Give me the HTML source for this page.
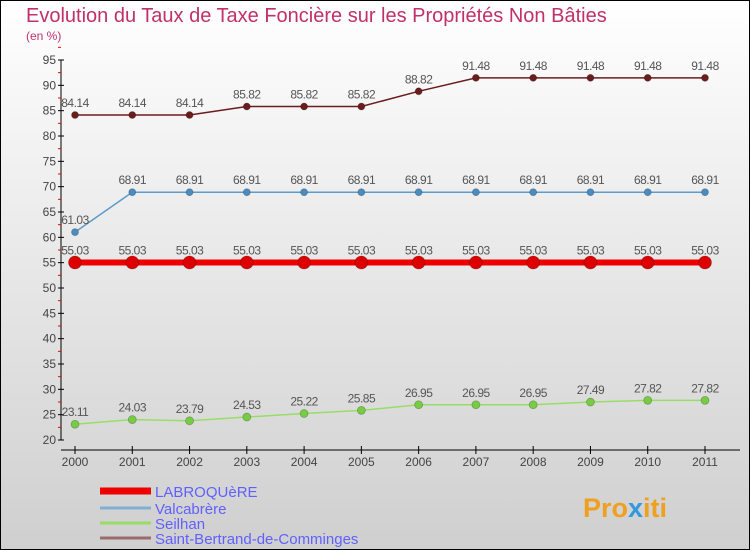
<!DOCTYPE html>
<html><head><meta charset="utf-8"><style>
body{margin:0}
svg{display:block;font-family:"Liberation Sans",sans-serif}
</style></head><body>
<svg width="750" height="550" viewBox="0 0 750 550">
<defs><linearGradient id="bg" x1="0" y1="0" x2="0" y2="1"><stop offset="0" stop-color="#ffffff"/><stop offset="1" stop-color="#cfcfcf"/></linearGradient></defs>
<rect x="0.5" y="0.5" width="749" height="549" fill="url(#bg)" stroke="#000"/>
<text x="26" y="22" font-size="20" fill="#c0306a">Evolution du Taux de Taxe Foncière sur les Propriétés Non Bâties</text>
<text x="26" y="40" font-size="12" fill="#c0306a">(en %)</text>
<g id="axes"></g>
<g id="series"></g>
<g id="legend"></g>
<text x="583" y="517" font-size="27" font-weight="bold" fill="#f0a020">Pro<tspan fill="#3399dd">x</tspan>iti</text>
</svg>
<script>
const years=[2000,2001,2002,2003,2004,2005,2006,2007,2008,2009,2010,2011];
const yTicks=[20,25,30,35,40,45,50,55,60,65,70,75,80,85,90,95];
const labroquere=[55.03,55.03,55.03,55.03,55.03,55.03,55.03,55.03,55.03,55.03,55.03,55.03];
const valcabrere=[61.03,68.91,68.91,68.91,68.91,68.91,68.91,68.91,68.91,68.91,68.91,68.91];
const seilhan=[23.11,24.03,23.79,24.53,25.22,25.85,26.95,26.95,26.95,27.49,27.82,27.82];
const stbertrand=[84.14,84.14,84.14,85.82,85.82,85.82,88.82,91.48,91.48,91.48,91.48,91.48];
const seriesNames=["LABROQUèRE","Valcabrère","Seilhan","Saint-Bertrand-de-Comminges"];
const NS="http://www.w3.org/2000/svg";
function X(i){return 75+(705-75)*i/(years.length-1);}
function Y(v){return 440-(v-20)*(380/75);}
function mk(tag,attrs,parent,txt){const e=document.createElementNS(NS,tag);for(const k in attrs)e.setAttribute(k,attrs[k]);if(txt!==undefined)e.textContent=txt;parent.appendChild(e);return e;}
const ax=document.getElementById('axes');
let e=mk('line',{x1:61,y1:Y(95),x2:61,y2:440,stroke:'#000'},ax);


yTicks.forEach(v=>{
 let t=mk('line',{x1:58,y1:Y(v),x2:64,y2:Y(v),stroke:'#000'},ax);
 
 
 let m=mk('line',{x1:58,y1:Y(v+2.5),x2:61,y2:Y(v+2.5),stroke:'#e00'},ax);
 
 
 let l=mk('text',{x:56,y:Y(v)+4,'font-size':12,fill:'#444','text-anchor':'end'},ax,v);
 
 
});
e=mk('line',{x1:61,y1:450,x2:740,y2:450,stroke:'#000'},ax);


years.forEach((y,i)=>{
 let t=mk('line',{x1:X(i),y1:446,x2:X(i),y2:454,stroke:'#000'},ax);
 
 
 let l=mk('text',{x:X(i),y:466,'font-size':12,fill:'#444','text-anchor':'middle'},ax,y);
 
 
});
const sg=document.getElementById('series');
const defs=[[labroquere,'#ee0000',6,6.5,'#dd0000','labroquere'],[valcabrere,'#5b9ccc',1.5,3.5,'#4a8cc0','valcabrere'],[seilhan,'#99dd66',1.5,4,'#77cc44','seilhan'],[stbertrand,'#6b1c1c',1.5,3.5,'#6b1c1c','saint-bertrand']];
defs.forEach(([d,c,w,r,fc,n])=>{
 const g=mk('g',{},sg);
 
 
 let p=mk('polyline',{points:d.map((v,i)=>X(i)+','+Y(v)).join(' '),fill:'none',stroke:c,'stroke-width':w},g);
 
 
 d.forEach((v,i)=>{
  let pt=mk('circle',{cx:X(i),cy:Y(v),r:r,fill:fc,stroke:'rgba(0,0,0,0.25)','stroke-width':0.8},g);
  
  
  let lb=mk('text',{x:X(i),y:Y(v)-8,'font-size':12,fill:'#555','text-anchor':'middle','letter-spacing':'-0.5'},g,v.toFixed(2));
  
  
 });
});
const lg=document.getElementById('legend');
const lcol=['#ee0000','#7fb0d4','#99dd66','#9b6b6b'];
const lw=[7,3,3,3];
const ly=[491,508,523,538];
seriesNames.forEach((s,i)=>{
 const g=mk('g',{},lg);
 
 
 let l=mk('line',{x1:100,y1:ly[i],x2:151,y2:ly[i],stroke:lcol[i],'stroke-width':lw[i]},g);
 
 
 let t=mk('text',{x:155,y:ly[i]+6,'font-size':15,fill:'#6060ff'},g,s);
 
 
});
</script>
</body></html>
